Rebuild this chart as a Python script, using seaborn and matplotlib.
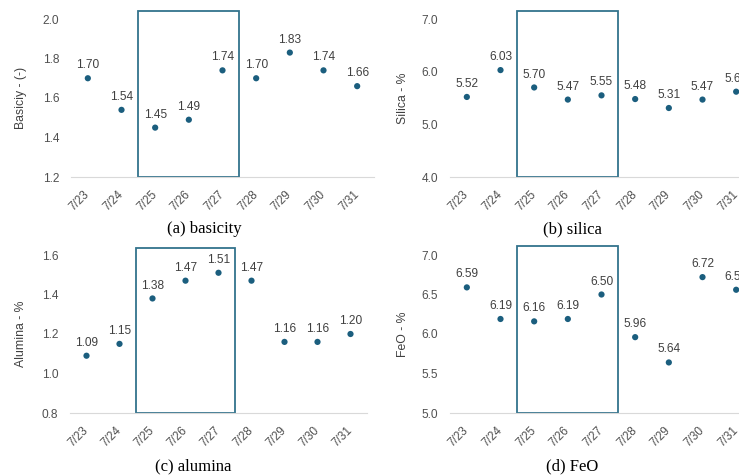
import matplotlib
matplotlib.use("Agg")
import matplotlib.pyplot as plt
import matplotlib.transforms as mtransforms
from matplotlib.patches import Rectangle
import seaborn as sns
import pandas as pd

# ---------------------------
# Data
# ---------------------------
dates = ["7/23", "7/24", "7/25", "7/26", "7/27", "7/28", "7/29", "7/30", "7/31"]
basicity = [1.70, 1.54, 1.45, 1.49, 1.74, 1.70, 1.83, 1.74, 1.66]
silica = [5.52, 6.03, 5.70, 5.47, 5.55, 5.48, 5.31, 5.47, 5.62]
alumina = [1.09, 1.15, 1.38, 1.47, 1.51, 1.47, 1.16, 1.16, 1.20]
feo = [6.59, 6.19, 6.16, 6.19, 6.50, 5.96, 5.64, 6.72, 6.56]

# highlighted window (7/25 - 7/27)
box_start, box_end = "7/25", "7/27"

sns.set_theme(style="white")
plt.rcParams["font.family"] = ["Liberation Sans", "DejaVu Sans"]

W, H = 739, 476
fig = plt.figure(figsize=(W / 100, H / 100), dpi=100)

DOT = "#1b5e7e"
BOX = "#33738c"
TXT = "#404040"
TICK = "#505050"

# pixel layout of each panel; the right column runs past the image edge like the original
panels = [
    dict(vals=basicity, ylabel="Basiciy - (-)", ylim=(1.2, 2.0), step=0.2, fmt="{:.1f}",
         px=(71, 374, 19, 177), lab_x=21, cap=(204, 229, "(a) basicity"), box_top=11),
    dict(vals=silica, ylabel="Silica - %", ylim=(4.0, 7.0), step=1.0, fmt="{:.1f}",
         px=(450, 753, 19, 177), lab_x=403, cap=(572, 229, "(b) silica"), box_top=11),
    dict(vals=alumina, ylabel="Alumina - %", ylim=(0.8, 1.6), step=0.2, fmt="{:.1f}",
         px=(70, 367, 255, 413), lab_x=21, cap=(193, 466, "(c) alumina"), box_top=248),
    dict(vals=feo, ylabel="FeO - %", ylim=(5.0, 7.0), step=0.5, fmt="{:.1f}",
         px=(450, 753, 255, 413), lab_x=403, cap=(572, 466, "(d) FeO"), box_top=246),
]

for p in panels:
    left, right, top, bottom = p["px"]
    ax = fig.add_axes([left / W, 1 - bottom / H, (right - left) / W, (bottom - top) / H])
    df = pd.DataFrame({"date": dates, "value": p["vals"]})
    sns.scatterplot(data=df, x="date", y="value", ax=ax, color=DOT, s=20,
                    edgecolor="none", zorder=3)

    for i, v in enumerate(p["vals"]):
        ax.annotate(f"{v:.2f}", (i, v), xytext=(0, 5), textcoords="offset points",
                    ha="center", va="bottom", fontsize=8.6, color=TXT,
                    annotation_clip=False)

    lo, hi = p["ylim"]
    ax.set_ylim(lo, hi)
    ax.set_xlim(-0.5, len(dates) - 0.5)
    n = int(round((hi - lo) / p["step"]))
    ticks = [lo + k * p["step"] for k in range(n + 1)]
    ax.set_yticks(ticks)
    ax.set_yticklabels([p["fmt"].format(t) for t in ticks])
    ax.set_xticks(range(len(dates)))
    ax.set_xticklabels(dates, rotation=45, ha="right", va="center", rotation_mode="anchor")
    ax.tick_params(axis="x", length=0, pad=11, labelsize=8.5, labelcolor=TICK)
    ax.tick_params(axis="y", length=0, pad=8.5, labelsize=8.6, labelcolor=TICK)
    ax.set_xlabel("")
    ax.set_ylabel("")
    for side in ["top", "right", "left"]:
        ax.spines[side].set_visible(False)
    ax.spines["bottom"].set_color("#d9d9d9")
    ax.spines["bottom"].set_linewidth(0.8)
    ax.patch.set_alpha(0)

    # highlight rectangle around 7/25 - 7/27
    i0 = dates.index(box_start) - 0.5
    i1 = dates.index(box_end) + 0.5
    trans = mtransforms.blended_transform_factory(ax.transData, ax.transAxes)
    box_h = 1 + (top - p["box_top"]) / (bottom - top)
    ax.add_patch(Rectangle((i0, 0), i1 - i0, box_h, transform=trans, fill=False,
                           edgecolor=BOX, linewidth=1.3, clip_on=False, zorder=2))

    fig.text(p["lab_x"] / W, 1 - ((top + bottom) / 2) / H, p["ylabel"], rotation=90,
             ha="center", va="center", fontsize=8.8, color=TXT)
    cx, cy, ctext = p["cap"]
    fig.text(cx / W, 1 - cy / H, ctext, ha="center", va="center", fontsize=12,
             family=["Liberation Serif", "DejaVu Serif"], color="black")

fig.savefig("out.png", dpi=100)
